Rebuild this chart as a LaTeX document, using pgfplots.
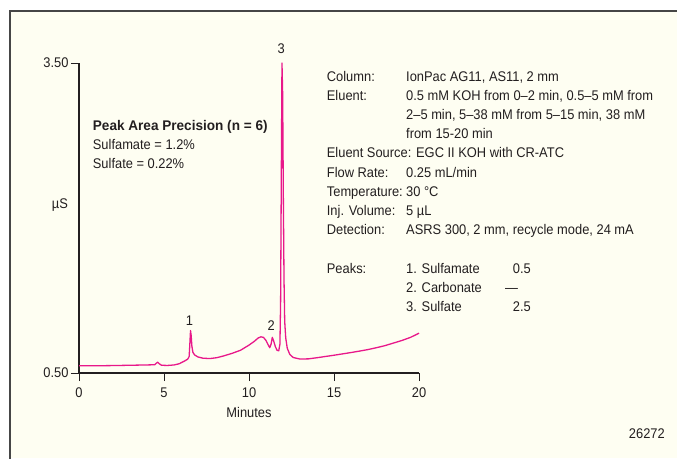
\documentclass[border=0pt]{standalone}
\usepackage{fontspec}
\setmainfont{Liberation Sans}[FakeStretch=0.92, BoldFeatures={FakeStretch=0.97}]
\usepackage{pgfplots}
\pgfplotsset{compat=1.18}
\definecolor{cream}{RGB}{254,254,242}
\definecolor{trace}{RGB}{232,24,138}
\definecolor{ink}{RGB}{35,31,32}
\definecolor{frame}{RGB}{70,70,70}
\newcommand{\chartfont}{\fontsize{14}{17}\selectfont}
\begin{document}
\begin{tikzpicture}[x=1pt,y=1pt]
\useasboundingbox (0,0) rectangle (677,-458);
\fill[white] (0,0) rectangle (677,-458);
\fill[cream] (10,-11) rectangle (677,-458);
\draw[frame,line width=1.5pt] (10,-459) -- (10,-11) -- (678,-11);
\begin{axis}[
  at={(79pt,-373pt)}, anchor=south west,
  scale only axis, width=340pt, height=310pt,
  xmin=0, xmax=20, ymin=0.5, ymax=3.5,
  axis lines=left,
  axis line style={-, ink, line width=1.2pt},
  tick style={ink, line width=1.0pt},
  tick align=outside,
  major tick length=8pt,
  xtick={0,5,10,15,20},
  ytick={0.5,3.5},
  yticklabels={0.50,3.50},
  /pgf/number format/assume math mode=true,
  tick label style={font=\chartfont, text=ink},
  xticklabel style={yshift=-3pt},
  yticklabel style={xshift=1pt},
  xlabel={Minutes},
  xlabel style={font=\chartfont, text=ink, at={(axis cs:10,0.115)}, anchor=center},
  clip=false,
]
\addplot[trace, line width=1.3pt, line join=round] coordinates {
(0,0.57) (1,0.57) (2,0.572) (3,0.575) (4,0.578) (4.45,0.58) (4.55,0.595)
(4.63,0.605) (4.72,0.59) (4.85,0.575) (5.2,0.573) (5.6,0.578) (5.9,0.59)
(6.2,0.615) (6.4,0.635) (6.48,0.66) (6.52,0.78) (6.56,0.91) (6.60,0.86)
(6.64,0.76) (6.70,0.70) (6.8,0.675) (7.0,0.655) (7.3,0.643) (7.7,0.64)
(8.1,0.648) (8.5,0.665) (9.0,0.69) (9.5,0.72) (10.0,0.77) (10.3,0.805)
(10.55,0.84) (10.7,0.85) (10.85,0.845) (11.0,0.815) (11.12,0.775)
(11.22,0.745) (11.3,0.78) (11.37,0.845) (11.45,0.81) (11.55,0.755)
(11.65,0.72) (11.75,0.715) (11.82,0.78) (11.86,1.2) (11.90,2.4)
(11.94,3.50) (11.98,3.2) (12.02,2.2) (12.06,1.4) (12.10,1.0) (12.16,0.84)
(12.25,0.74) (12.4,0.68) (12.6,0.65) (13.0,0.635) (13.5,0.637) (14.0,0.648)
(14.5,0.66) (15.0,0.672) (15.5,0.685) (16.0,0.698) (16.5,0.712) (17.0,0.727)
(17.5,0.745) (18.0,0.765) (18.5,0.79) (19.0,0.815) (19.5,0.845) (20.0,0.885)
};
\node[ink, font=\chartfont] at (axis cs:-1.12,2.126) {µS};
\node[ink, font=\chartfont] at (axis cs:6.5,1.01) {1};
\node[ink, font=\chartfont] at (axis cs:11.3,0.96) {2};
\node[ink, font=\chartfont] at (axis cs:11.9,3.64) {3};
\end{axis}
\begin{scope}[every node/.style={anchor=base west, inner sep=0pt, text=ink, font=\chartfont}]
\node[font=\chartfont\bfseries] at (92.7,-130) {Peak Area Precision (n = 6)};
\node at (92.7,-149.5) {Sulfamate = 1.2\%};
\node at (92.7,-168.5) {Sulfate = 0.22\%};
\node at (326.7,-81) {Column:};
\node at (406,-81) {IonPac AG11, AS11, 2 mm};
\node at (326.7,-100.2) {Eluent:};
\node at (406,-100.2) {0.5 mM KOH from 0–2 min, 0.5–5 mM from};
\node at (406,-119.4) {2–5 min, 5–38 mM from 5–15 min, 38 mM};
\node at (406,-138.6) {from 15-20 min};
\node at (326.7,-157.8) {Eluent Source: EGC II KOH with CR-ATC};
\node at (326.7,-177) {Flow Rate:};
\node at (406,-177) {0.25 mL/min};
\node at (326.7,-196.2) {Temperature:};
\node at (406,-196.2) {30 °C};
\node at (326.7,-215.4) {Inj. Volume:};
\node at (406,-215.4) {5 µL};
\node at (326.7,-234.6) {Detection:};
\node at (406,-234.6) {ASRS 300, 2 mm, recycle mode, 24 mA};
\node at (326.7,-273) {Peaks:};
\node at (406,-273) {1. Sulfamate};
\node at (512.7,-273) {0.5};
\node at (406,-292.2) {2. Carbonate};
\node at (505,-292.2) {—};
\node at (406,-311.4) {3. Sulfate};
\node at (512.7,-311.4) {2.5};
\node[anchor=base east] at (665,-438) {26272};
\end{scope}
\end{tikzpicture}
\end{document}
